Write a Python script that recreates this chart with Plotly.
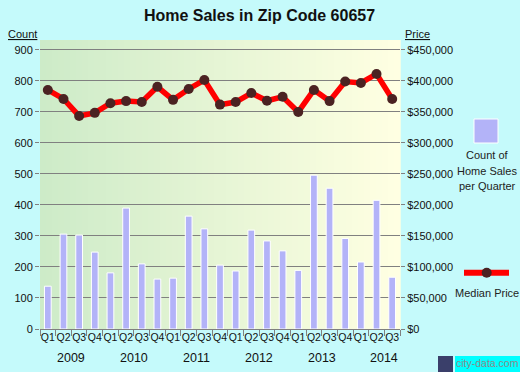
import plotly.graph_objects as go

# ---- data ----
quarters = ["2009 Q1", "2009 Q2", "2009 Q3", "2009 Q4",
            "2010 Q1", "2010 Q2", "2010 Q3", "2010 Q4",
            "2011 Q1", "2011 Q2", "2011 Q3", "2011 Q4",
            "2012 Q1", "2012 Q2", "2012 Q3", "2012 Q4",
            "2013 Q1", "2013 Q2", "2013 Q3", "2013 Q4",
            "2014 Q1", "2014 Q2", "2014 Q3"]
q_labels = ["Q1", "Q2", "Q3", "Q4"] * 5 + ["Q1", "Q2", "Q3"]
years = ["2009", "2010", "2011", "2012", "2013", "2014"]
sales_count = [138, 306, 303, 248, 181, 390, 210, 161,
               164, 364, 323, 206, 187, 319, 284, 252,
               189, 496, 454, 292, 216, 415, 167]
median_price = [385500, 371000, 343500, 348500, 364000, 367500, 366000, 390500,
                369500, 387000, 401500, 361800, 366000, 380500, 368000, 374500,
                350000, 385500, 367500, 399000, 396800, 411300, 371000]
count_ticks = [0, 100, 200, 300, 400, 500, 600, 700, 800, 900]
price_ticks = [0, 50000, 100000, 150000, 200000, 250000, 300000, 350000, 400000, 450000]

FONT = "Arial, Liberation Sans, sans-serif"
TXT = "#111111"
GRID = "#808080"

fig = go.Figure()
fig.add_trace(go.Bar(
    x=quarters, y=sales_count, width=0.43,
    marker=dict(color="#B3B3F8", line=dict(color="white", width=1)),
    yaxis="y", showlegend=False, hoverinfo="skip"))
fig.add_trace(go.Scatter(
    x=quarters, y=median_price, mode="lines+markers", yaxis="y2",
    line=dict(color="#FF0000", width=5.5),
    marker=dict(color="#4B2222", size=10),
    showlegend=False, hoverinfo="skip"))

# gradient background for plot area
shapes = []
n = 60
c0 = (205, 235, 200)
c1 = (255, 255, 226)
for i in range(n):
    t = i / (n - 1)
    col = "rgb(%d,%d,%d)" % tuple(round(a + (b - a) * t) for a, b in zip(c0, c1))
    shapes.append(dict(type="rect", xref="x domain", yref="y domain",
                       x0=i / n, x1=(i + 1) / n + 0.002, y0=0, y1=1,
                       fillcolor=col, line=dict(width=0), layer="below"))

def px(x):
    return (x - 40) / 360.0

def py(y):
    return (329 - y) / 289.0

# legend swatches
shapes.append(dict(type="rect", xref="paper", yref="paper",
                   x0=px(474), x1=px(498), y0=py(143), y1=py(119),
                   fillcolor="#B3B3F8", line=dict(color="white", width=1)))
shapes.append(dict(type="line", xref="paper", yref="paper",
                   x0=px(464), x1=px(509), y0=py(272.7), y1=py(272.7),
                   line=dict(color="#FF0000", width=6)))
shapes.append(dict(type="circle", xref="paper", yref="paper",
                   xsizemode="pixel", ysizemode="pixel",
                   xanchor=px(486.7), yanchor=py(272.7),
                   x0=-5, x1=5, y0=-5, y1=5,
                   fillcolor="#4B2222", line=dict(width=0)))
# logo
shapes.append(dict(type="rect", xref="paper", yref="paper",
                   x0=px(438), x1=px(453), y0=py(372), y1=py(356),
                   fillcolor="#3A3F6A", line=dict(width=0)))
shapes.append(dict(type="rect", xref="paper", yref="paper",
                   x0=px(455), x1=px(521), y0=py(372), y1=py(356),
                   fillcolor="#00FFFF", line=dict(width=0)))

annotations = []
for k, yr in enumerate(years):
    annotations.append(dict(x=1.5 + 4 * k, y=py(357.5), xref="x", yref="paper",
                            text=yr, showarrow=False, xanchor="center", yanchor="middle",
                            font=dict(family=FONT, size=12.5, color=TXT)))
annotations.append(dict(x=px(22.5), y=py(34), xref="paper", yref="paper",
                        text="<u>Count</u>", showarrow=False, xanchor="center", yanchor="middle",
                        font=dict(family=FONT, size=11, color=TXT)))
annotations.append(dict(x=px(417.5), y=py(34), xref="paper", yref="paper",
                        text="<u>Price</u>", showarrow=False, xanchor="center", yanchor="middle",
                        font=dict(family=FONT, size=11, color=TXT)))
for txt, yy in [("Count of", 155), ("Home Sales", 170.5), ("per Quarter", 186), ("Median Price", 293)]:
    annotations.append(dict(x=px(487), y=py(yy), xref="paper", yref="paper",
                            text=txt, showarrow=False, xanchor="center", yanchor="middle",
                            font=dict(family=FONT, size=11, color="#222222")))
annotations.append(dict(x=px(487.5), y=py(363), xref="paper", yref="paper",
                        text="city-data.com", showarrow=False, xanchor="center", yanchor="middle",
                        borderpad=0,
                        font=dict(family=FONT, size=10.5, color="#8A8A8A")))

fig.update_layout(
    width=520, height=372,
    margin=dict(l=40, r=120, t=40, b=43, pad=0),
    paper_bgcolor="#C5FAFB",
    plot_bgcolor="#E6F4D8",
    title=dict(text="<b>Home Sales in Zip Code 60657</b>", x=259.5 / 520, y=1 - 15 / 372,
               xanchor="center", yanchor="middle", xref="container", yref="container",
               font=dict(family=FONT, size=16, color=TXT)),
    xaxis=dict(type="category", categoryorder="array", categoryarray=quarters,
               tickmode="array", tickvals=quarters, ticktext=q_labels,
               tickson="boundaries", ticks="outside", ticklen=6, tickcolor=GRID,
               tickangle=0,
               tickfont=dict(family=FONT, size=10.5, color=TXT),
               showgrid=False, showline=False, zeroline=False,
               range=[-0.5, 22.5]),
    yaxis=dict(range=[0, 932], tickmode="array", tickvals=count_ticks,
               ticks="outside", ticklen=4, tickcolor=GRID,
               showgrid=True, gridcolor=GRID, gridwidth=1,
               zeroline=True, zerolinecolor=GRID, zerolinewidth=1,
               showline=False,
               tickfont=dict(family=FONT, size=11, color=TXT)),
    yaxis2=dict(range=[0, 466000], overlaying="y", side="right",
                tickmode="array", tickvals=price_ticks, tickformat="$,",
                ticks="outside", ticklen=4, tickcolor=GRID,
                showgrid=False, zeroline=False, showline=False,
                tickfont=dict(family=FONT, size=11, color=TXT)),
    shapes=shapes,
    annotations=annotations,
    bargap=0.5,
)

fig.write_html("out.html", config={"displayModeBar": False},
               post_script="document.body.style.margin='0';document.body.style.overflow='hidden';")
